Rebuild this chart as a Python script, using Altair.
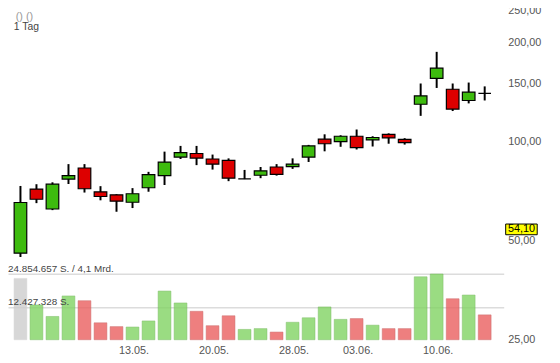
import altair as alt
import pandas as pd

# ---------------- data ----------------
opens  = [45.8, 71.7, 62.4, 76.9, 83.1, 70.3, 68.9, 65.4, 72.4, 78.8, 89.7, 92.0, 88.5, 87.7, 77.0,
          79.0, 83.7, 83.9, 89.7, 101.7, 99.9, 103.8, 101.2, 105.2, 101.5, 129.8, 155.5, 144.2, 133.3, 140.1]
highs  = [73.3, 74.2, 75.2, 85.4, 85.4, 73.2, 69.2, 72.2, 80.9, 93.2, 97.0, 97.0, 91.3, 88.9, 82.0,
          83.7, 85.4, 88.9, 97.7, 105.2, 104.5, 108.8, 103.8, 105.9, 102.4, 150.1, 187.3, 150.1, 151.1, 147.1]
lows   = [44.6, 65.0, 61.9, 74.3, 70.0, 66.3, 61.2, 62.8, 70.4, 73.8, 88.5, 84.8, 82.2, 75.8, 76.9,
          77.4, 78.8, 82.6, 86.7, 93.4, 96.4, 94.6, 96.6, 98.5, 97.9, 119.7, 145.5, 123.8, 130.6, 133.3]
closes = [65.3, 66.8, 74.2, 78.8, 71.9, 68.1, 65.9, 69.4, 79.3, 86.6, 92.6, 89.1, 85.4, 77.4, 77.0,
          81.5, 79.5, 85.4, 97.0, 98.5, 103.8, 95.9, 102.9, 102.6, 99.2, 137.6, 167.1, 125.5, 141.3, 140.1]
volumes = [23190000, 13150000, 8800000, 16560000, 14750000, 6400000, 4960000, 4800000, 7100000,
           18400000, 13900000, 10750000, 5300000, 9060000, 3900000, 4200000, 2900000, 6600000,
           8300000, 12400000, 7700000, 8000000, 5500000, 4200000, 4200000, 23800000, 24854657,
           15500000, 16900000, 9400000]
vol_dir = ["n", "u", "u", "u", "d", "d", "d", "u", "u", "u", "u", "d", "d", "d", "u",
           "u", "d", "u", "u", "u", "u", "d", "u", "d", "d", "u", "u", "d", "u", "d"]

tick_pos = [7, 12, 17, 21, 26]
tick_labels = ["13.05.", "20.05.", "28.05.", "03.06.", "10.06."]
price_ticks = [25, 50, 100, 150, 200, 250]

vol_grid_values = [12427328, 24854657]
vol_grid_labels = ["12.427.328 S.", "24.854.657 S. / 4,1 Mrd."]

last_price = [54.10]
last_price_label = ["54,10"]

header_texts = ["() ()", "1 Tag"]

# ---------------- layout / style ----------------
W, H = 503, 334
FONT = "Liberation Sans"
GREEN, RED = "#3dbb0e", "#dd0000"
PRICE_DOMAIN = [25, 250]
X_DOMAIN = [-0.47, 29.88]
VOL_DOMAIN = [0, 124450000]

df = pd.DataFrame({
    "i": list(range(len(opens))),
    "open": opens, "high": highs, "low": lows, "close": closes,
    "volume": volumes, "vdir": vol_dir,
})

xscale = alt.Scale(domain=X_DOMAIN, nice=False, zero=False)
x_noaxis = alt.X("i:Q", scale=xscale, axis=None)

pscale = alt.Scale(type="log", domain=PRICE_DOMAIN, nice=False)
vscale = alt.Scale(type="linear", domain=VOL_DOMAIN, nice=False, zero=True)

base = alt.Chart(df)

volume = base.mark_bar(size=13, strokeWidth=1, strokeOpacity=0.5, opacity=0.8).encode(
    x=x_noaxis,
    y=alt.Y("volume:Q", scale=vscale,
            axis=alt.Axis(orient="left", values=vol_grid_values, labels=False, ticks=False,
                          domain=False, grid=True, gridColor="#dcdcdc", gridWidth=1.5, title=None)),
    fill=alt.Fill("vdir:N", scale=alt.Scale(domain=["u", "d", "n"],
                                            range=["#82d463", "#ea6060", "#cecece"]), legend=None),
    stroke=alt.Stroke("vdir:N", scale=alt.Scale(domain=["u", "d", "n"],
                                                range=["#5fae45", "#c04848", "#cecece"]), legend=None),
)

wicks = base.mark_rule(color="black", strokeWidth=2).encode(
    x=x_noaxis,
    y=alt.Y("low:Q", scale=pscale,
            axis=alt.Axis(orient="right", values=price_ticks,
                          labelExpr="replace(format(datum.value, '.2f'), '.', ',')",
                          title=None, domain=False, ticks=False, grid=False,
                          labelPadding=4, labelFontSize=11, labelColor="#555", labelFont=FONT,
                          labelOverlap=False, labelFlush=False)),
    y2="high:Q",
)

bodies = base.mark_bar(size=12.8, stroke="black", strokeWidth=1.2).encode(
    x=x_noaxis,
    y=alt.Y("open:Q", scale=pscale, axis=None),
    y2="close:Q",
    color=alt.condition("datum.close >= datum.open", alt.value(GREEN), alt.value(RED)),
)

date_text = alt.Chart(pd.DataFrame({"i": tick_pos, "t": tick_labels})).mark_text(
    align="center", baseline="middle", dx=1.5, fontSize=11, font=FONT, color="#555"
).encode(x=x_noaxis, y=alt.value(H + 11), text="t:N")

vol_text = alt.Chart(pd.DataFrame({"v": vol_grid_values, "t": vol_grid_labels})).mark_text(
    align="left", baseline="alphabetic", dy=-2, fontSize=10, font=FONT, color="#444"
).encode(x=alt.value(0), y=alt.Y("v:Q", scale=vscale, axis=None), text="t:N")

lp_df = pd.DataFrame({"p": last_price, "t": last_price_label})
lp_box = alt.Chart(lp_df).mark_point(
    shape="M-1,-0.34L1,-0.34L1,0.34L-1,0.34Z", size=1024, filled=True,
    fill="#ffff00", stroke="black", strokeWidth=1, opacity=1
).encode(x=alt.value(521), y=alt.Y("p:Q", scale=pscale, axis=None))
lp_text = alt.Chart(lp_df).mark_text(fontSize=11, font=FONT, color="black", align="center",
                                     baseline="middle").encode(
    x=alt.value(521), y=alt.Y("p:Q", scale=pscale, axis=None), text="t:N")

hdr = pd.DataFrame({"t": header_texts})
hdr1 = alt.Chart(hdr).transform_filter(alt.datum.t == header_texts[0]).mark_text(
    align="left", baseline="middle", fontSize=11, font=FONT, color="#999"
).encode(x=alt.value(7.8), y=alt.value(6.3), text="t:N")
hdr2 = alt.Chart(hdr).transform_filter(alt.datum.t == header_texts[1]).mark_text(
    align="left", baseline="middle", fontSize=10.5, font=FONT, color="#444"
).encode(x=alt.value(5.9), y=alt.value(16.6), text="t:N")

chart = alt.layer(
    volume, vol_text, wicks, bodies, date_text, lp_box, lp_text, hdr1, hdr2
).resolve_scale(y="independent").properties(
    width=W, height=H,
    padding={"left": 0, "top": 0, "right": 49, "bottom": 21},
    autosize=alt.AutoSizeParams(type="none"),
).configure_view(strokeWidth=0)

chart.save("out.html", embed_options={"renderer": "svg", "actions": False})
